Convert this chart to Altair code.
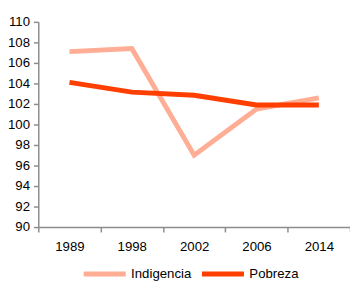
import altair as alt
import pandas as pd

years = ["1989", "1998", "2002", "2006", "2014"]
indigencia = [107.1, 107.4, 97.0, 101.5, 102.6]
pobreza = [104.1, 103.15, 102.85, 101.9, 101.9]
series = ["Indigencia", "Pobreza"]
colors = ["#FFAD94", "#FF3F00"]
y_ticks = [90, 92, 94, 96, 98, 100, 102, 104, 106, 108, 110]

rows = []
for s, vals in zip(series, [indigencia, pobreza]):
    for yr, v in zip(years, vals):
        rows.append({"Año": yr, "Serie": s, "Valor": v})
df = pd.DataFrame(rows)

FONT = "Liberation Sans"
FS = 13.5

chart = alt.Chart(df).mark_line(strokeWidth=5, strokeJoin="miter", strokeCap="butt").encode(
    x=alt.X("Año:O", sort=years, bandPosition=0.5,
            scale=alt.Scale(type="band", paddingInner=0, paddingOuter=0),
            axis=alt.Axis(title=None, labelAngle=0, tickBand="extent", labelPadding=8,
                          tickSize=5, labelFontSize=FS, labelFont=FONT, labelColor="#000000",
                          domainColor="#8c8c8c", tickColor="#8c8c8c", domainWidth=1.5, tickWidth=1.5)),
    y=alt.Y("Valor:Q", scale=alt.Scale(domain=[90, 110], nice=False, zero=False),
            axis=alt.Axis(title=None, values=y_ticks, grid=False, tickSize=5, labelPadding=4,
                          labelFontSize=FS, labelFont=FONT, labelColor="#000000",
                          domainColor="#8c8c8c", tickColor="#8c8c8c", domainWidth=1.5, tickWidth=1.5)),
    color=alt.Color("Serie:N", sort=series,
                    scale=alt.Scale(domain=series, range=colors),
                    legend=alt.Legend(title=None, orient="none", legendX=44, legendY=234,
                                      direction="horizontal", padding=0,
                                      symbolType="stroke", symbolSize=1849, symbolStrokeWidth=5,
                                      labelFontSize=FS, labelFont=FONT, labelColor="#000000",
                                      labelOffset=3, columnPadding=0)),
).properties(
    width=319, height=210,
    autosize=alt.AutoSizeParams(type="none"),
    padding={"left": 31, "top": 11, "right": 0, "bottom": 53},
).configure_view(stroke=None)

chart.save("out.html", embed_options={"renderer": "svg", "actions": False})
